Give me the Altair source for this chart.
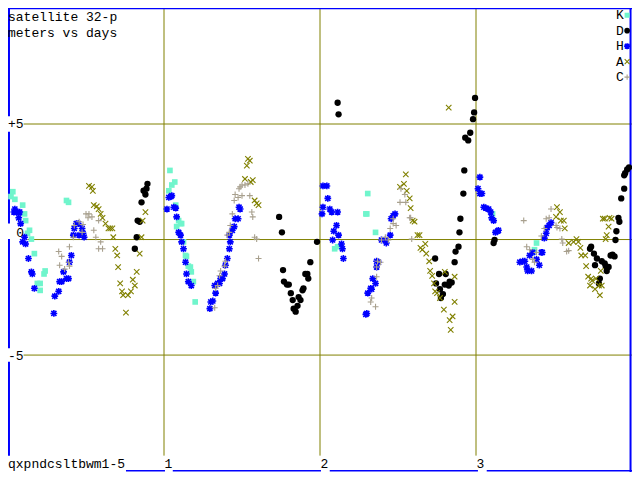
import altair as alt
import pandas as pd

# ---- data: (days, meters) per series ----
K = [(0.031, 2.07), (0.019, 1.86), (0.044, 1.74), (0.094, 1.49), (0.106, 1.11), (0.113, 0.82),
     (0.138, 0.40), (0.125, 0.27), (0.150, 0.02), (0.169, -0.61), (0.238, -1.36), (0.231, -1.49),
     (0.188, -1.90), (0.206, -1.90), (0.206, -2.20), (0.375, 1.69), (0.388, 1.61),
     (1.038, 2.99), (1.050, 2.36), (1.069, 2.49), (1.031, 2.11), (1.075, 1.49), (1.094, 0.82),
     (1.106, 0.69), (1.081, 0.56), (1.113, 0.69), (1.125, -0.10), (1.138, -0.69), (1.144, -0.73),
     (1.156, -1.15), (1.169, -1.19), (1.175, -1.40), (1.188, -1.82), (1.200, -2.70),
     (2.306, 1.99), (2.294, 1.11), (2.300, 1.11), (2.356, 0.31), (2.094, -0.40), (2.113, -0.31),
     (3.106, 1.11), (3.388, -0.15), (3.375, -0.44), (3.363, -0.56)]

D = [(0.894, 2.41), (0.888, 2.20), (0.869, 2.11), (0.881, 1.95), (0.856, 1.61), (0.831, 0.82),
     (0.844, 0.77), (0.825, 0.10), (0.813, -0.40),
     (1.738, 0.98), (1.756, 0.31), (1.981, -0.10), (1.938, -0.98), (1.763, -1.32), (1.906, -1.49),
     (1.919, -1.49), (1.925, -1.69), (1.769, -1.82), (1.788, -1.95), (1.800, -1.95), (1.894, -2.11),
     (1.888, -2.20), (1.813, -2.32), (1.863, -2.49), (1.875, -2.62), (1.825, -2.62), (1.856, -2.87),
     (1.831, -2.99), (1.844, -3.12),
     (2.113, 5.92), (2.119, 5.42), (2.994, 6.13), (2.988, 5.50), (2.981, 5.21), (2.963, 4.62),
     (2.931, 4.41), (2.950, 4.29), (2.925, 2.99), (2.919, 1.99), (2.900, 0.90), (2.894, 0.31),
     (2.888, -0.31), (2.869, -0.52), (2.863, -0.98), (2.738, -0.82), (2.763, -1.49), (2.806, -1.49),
     (2.744, -1.90), (2.800, -1.95), (2.825, -1.99), (2.831, -1.82), (2.844, -1.86), (2.769, -2.15),
     (2.788, -2.36), (2.775, -2.53),
     (3.119, -0.02), (3.113, -0.15), (3.981, 3.12), (3.969, 3.03), (3.956, 2.87), (3.950, 2.78),
     (3.950, 2.20), (3.931, 1.78), (3.913, 0.94), (3.919, 0.77), (3.900, 0.36), (3.894, -0.02),
     (3.875, -0.65), (3.863, -0.69), (3.888, -0.73), (3.738, -0.31), (3.731, -0.40), (3.756, -0.61),
     (3.775, -0.82), (3.763, -1.11), (3.806, -0.94), (3.825, -1.03), (3.831, -1.15), (3.850, -1.19),
     (3.838, -1.36), (3.794, -1.69), (3.788, -1.90)]

H = [(0.044, 1.32), (0.063, 1.19), (0.038, 1.19), (0.075, 1.19), (0.069, 0.94), (0.081, 0.69),
     (0.106, 0.10), (0.094, -0.10), (0.113, -0.19), (0.131, -0.82), (0.150, -1.40), (0.156, -1.49),
     (0.169, -2.11), (0.300, -2.45), (0.294, -3.20), (0.325, -2.24), (0.331, -1.82), (0.344, -1.82),
     (0.375, -1.69), (0.388, -1.69), (0.356, -1.40), (0.394, -0.98), (0.406, -0.69), (0.419, 0.19),
     (0.425, 0.48), (0.438, 0.69), (0.450, 0.69), (0.456, 0.19), (0.481, 0.27), (0.488, 0.10),
     (0.475, 0.48),
     (1.044, 1.86), (1.050, 1.90), (1.031, 1.82), (1.019, 1.32), (1.063, 1.40), (1.075, 1.36),
     (1.081, 0.98), (1.094, 0.31), (1.106, 0.19), (1.113, -0.10), (1.125, -0.40), (1.138, -0.98),
     (1.144, -1.49), (1.156, -1.82), (1.175, -1.99), (1.325, -1.99), (1.331, -2.32), (1.313, -2.66),
     (1.300, -2.70), (1.294, -2.99), (1.344, -1.90), (1.356, -1.90), (1.363, -1.69), (1.375, -1.69),
     (1.388, -1.49), (1.394, -1.11), (1.406, -0.82), (1.419, -0.40), (1.425, -0.10), (1.419, 0.19),
     (1.438, 0.40), (1.450, 0.56), (1.456, 0.90), (1.475, 0.90), (1.481, 1.40), (1.488, 1.32),
     (2.019, 2.32), (2.044, 2.32), (2.050, 1.78), (2.019, 1.40), (2.013, 1.11), (2.063, 1.32),
     (2.075, 1.19), (2.113, 1.19), (2.106, 0.61), (2.088, 0.36), (2.119, 0.19), (2.081, -0.02),
     (2.138, -0.19), (2.144, -0.40), (2.150, -0.82), (2.363, -0.94), (2.375, -0.98), (2.363, -1.19),
     (2.338, -1.69), (2.356, -1.90), (2.325, -2.11), (2.331, -2.15), (2.306, -2.32), (2.294, -3.24),
     (2.300, -3.20), (2.394, -0.02), (2.419, -0.02), (2.425, -0.15), (2.450, 0.19), (2.456, 0.90),
     (2.469, 1.03), (2.481, 1.11),
     (3.025, 2.70), (3.013, 2.20), (3.025, 1.99), (3.038, 1.99), (3.050, 1.40), (3.063, 1.36),
     (3.081, 1.32), (3.094, 1.19), (3.100, 0.94), (3.113, 0.82), (3.125, 0.31), (3.138, 0.36),
     (3.144, 0.40), (3.281, -0.98), (3.300, -0.94), (3.313, -0.94), (3.325, -1.19), (3.331, -1.36),
     (3.356, -1.36), (3.344, -0.69), (3.363, -0.56), (3.388, -0.86), (3.406, -1.11), (3.419, -0.56),
     (3.425, -0.56), (3.438, 0.06), (3.450, 0.27), (3.456, 0.52), (3.469, 0.61), (3.481, 0.73)]

A = [(0.519, 2.32), (0.538, 2.28), (0.544, 2.11), (0.550, 1.49), (0.569, 1.44), (0.581, 1.32),
     (0.594, 1.11), (0.606, 0.94), (0.625, 0.69), (0.644, 0.48), (0.656, 0.48), (0.669, 0.48),
     (0.675, 0.10), (0.688, -0.40), (0.700, -0.69), (0.706, -1.19), (0.825, -1.40), (0.800, -1.74),
     (0.813, -1.99), (0.719, -1.90), (0.731, -2.24), (0.738, -2.41), (0.788, -2.24), (0.769, -2.41),
     (0.756, -3.16), (0.844, -0.61), (0.856, 0.10), (0.863, 0.82), (0.881, 1.19),
     (1.538, 3.49), (1.550, 3.41), (1.531, 3.20), (1.519, 2.62), (1.569, 2.57), (1.556, 2.49),
     (1.581, 1.69), (1.594, 1.57), (1.606, 1.49),
     (2.825, 5.71), (2.550, 2.82), (2.538, 2.41), (2.513, 2.28), (2.556, 2.11), (2.575, 1.78),
     (2.581, 1.36), (2.594, 0.82), (2.606, 0.77), (2.625, 0.19), (2.638, 0.19), (2.675, -0.19),
     (2.656, -0.44), (2.644, -0.36), (2.681, -0.61), (2.700, -0.94), (2.706, -1.36), (2.719, -1.57),
     (2.731, -1.90), (2.738, -2.24), (2.750, -2.32), (2.769, -2.53), (2.800, -1.40), (2.863, -1.61),
     (2.863, -2.70), (2.794, -3.03), (2.850, -3.33), (2.831, -3.49), (2.838, -3.91),
     (3.519, 1.40), (3.538, 1.19), (3.513, 0.98), (3.544, 0.82), (3.563, 0.82), (3.569, 0.48),
     (3.594, -0.15), (3.625, -0.10), (3.644, 0.02), (3.656, -0.10), (3.669, -0.36), (3.675, -0.69),
     (3.700, -0.69), (3.706, -1.15), (3.719, -1.61), (3.738, -1.69), (3.744, -1.78), (3.769, -1.69),
     (3.731, -1.99), (3.763, -2.15), (3.788, -1.99), (3.806, -1.99), (3.794, -2.41), (3.800, -1.36),
     (3.813, 0.90), (3.831, 0.02), (3.838, 0.19), (3.856, 0.94), (3.825, 0.90), (3.869, 0.90),
     (3.850, 0.56)]

C = [(0.325, -0.52), (0.344, -0.73), (0.394, -0.31), (0.331, -1.11), (0.363, -1.28), (0.388, -0.98),
     (0.394, -1.15), (0.419, 0.10), (0.425, 0.61), (0.456, 0.77), (0.481, 0.65), (0.475, 0.31),
     (0.500, 1.11), (0.519, 1.11), (0.513, 0.94), (0.538, 0.98), (0.550, 0.40), (0.563, 0.10),
     (0.581, 0.82), (0.594, -0.10), (0.581, -0.40), (0.606, -0.40),
     (1.325, -2.95), (1.331, -2.11), (1.344, -1.99), (1.356, -1.57), (1.363, -1.36), (1.388, -1.15),
     (1.394, -0.94), (1.406, 0.19), (1.419, 0.31), (1.425, 0.61), (1.438, 1.11), (1.450, 1.69),
     (1.456, 1.95), (1.475, 1.82), (1.500, 1.90), (1.481, 2.20), (1.488, 2.28), (1.500, 2.36),
     (1.519, 2.36), (1.538, 2.41), (1.550, 1.90), (1.563, 1.19), (1.569, 0.98), (1.581, 0.10),
     (1.594, 0.02), (1.606, -0.82),
     (2.513, 1.61), (2.544, 1.95), (2.550, 1.61), (2.519, 2.20), (2.575, 0.94), (2.581, 0.94),
     (2.469, 0.90), (2.488, 0.61), (2.469, 0.69), (2.450, 0.48), (2.419, 0.10), (2.394, -0.02),
     (2.438, -0.02), (2.588, 0.02), (2.369, -0.94), (2.388, -0.98), (2.363, -1.19), (2.363, -1.61),
     (2.331, -2.53), (2.325, -2.70), (2.356, -2.91),
     (3.306, 0.82), (3.325, -0.31), (3.344, -0.44), (3.363, -0.86), (3.375, -0.98), (3.388, -0.56),
     (3.419, 0.15), (3.438, 0.48), (3.450, 0.90), (3.469, 0.94), (3.481, 1.32), (3.513, 0.61),
     (3.519, 0.52), (3.538, 0.48), (3.550, 0.02), (3.556, -0.15), (3.581, -0.52), (3.594, -0.48)]

SERIES = ["K", "D", "H", "A", "C"]
X_TICKS = [1, 2, 3]
X_TICK_LABELS = ["1", "2", "3"]
Y_TICKS = [5, 0, -5]
Y_TICK_LABELS = ["+5", "0", "-5"]
TITLE_LINES = ["satellite 32-p", "meters vs days"]
FOOTER = "qxpndcsltbwm1-5"

# ---- layout / style ----
W, HGT = 624, 464
X_DOM = [0, 4]
Y_DOM = [-10.06, 10.02]
OLIVE = "#808000"
BLUE = "#0000ff"
FONT = "Liberation Mono"
FS = 13

ASTERISK = "M-1,0L1,0M0,-1L0,1M-0.75,-0.75L0.75,0.75M-0.75,0.75L0.75,-0.75"
XMARK = "M-1,-1L1,1M-1,1L1,-1"
PLUS = "M-1,0L1,0M0,-1L0,1"

STYLE = {
    "K": dict(shape="square", filled=True, color="#70f5cc", size=32, strokeWidth=0),
    "D": dict(shape="circle", filled=True, color="#000000", size=40, strokeWidth=0),
    "H": dict(shape=ASTERISK, filled=False, color=BLUE, size=46, strokeWidth=1.6),
    "A": dict(shape=XMARK, filled=False, color=OLIVE, size=30, strokeWidth=1.1),
    "C": dict(shape=PLUS, filled=False, color="#a8a08e", size=36, strokeWidth=1.1),
}


def gx(px):  # position on the reference frame -> days
    return px / 160.0


def gy(py):  # position on the reference frame -> meters
    return (239.5 - py) / 23.9


xs = alt.Scale(domain=X_DOM, nice=False, zero=False)
ys = alt.Scale(domain=Y_DOM, nice=False, zero=False)


def X(f):
    return alt.X(f, type="quantitative", scale=xs, axis=None)


def Y(f):
    return alt.Y(f, type="quantitative", scale=ys, axis=None)


layers = []

# grid lines
vgrid = pd.DataFrame({"x": X_TICKS, "y": [gy(0)] * 3, "y2": [gy(463)] * 3})
layers.append(alt.Chart(vgrid).mark_rule(color=OLIVE, strokeWidth=1).encode(
    x=X("x"), y=Y("y"), y2="y2"))
hgrid = pd.DataFrame({"y": Y_TICKS, "x": [gx(16), gx(20), gx(16)], "x2": [gx(640)] * 3})
layers.append(alt.Chart(hgrid).mark_rule(color=OLIVE, strokeWidth=1).encode(
    y=Y("y"), x=X("x"), x2="x2"))

# frame segments (blue), broken where labels sit
vert = pd.DataFrame({
    "x": [gx(1)] * 4 + [gx(638.5)],
    "y": [gy(0), gy(128), gy(239), gy(366), gy(0)],
    "y2": [gy(112), gy(223), gy(352), gy(463), gy(480)],
})
layers.append(alt.Chart(vert).mark_rule(color=BLUE, strokeWidth=2).encode(
    x=X("x"), y=Y("y"), y2="y2"))
horiz = pd.DataFrame({
    "y": [gy(0.5)] + [gy(478.6)] * 4,
    "x": [gx(0), gx(121), gx(169), gx(330), gx(491)],
    "x2": [gx(640), gx(161), gx(321), gx(482), gx(640)],
})
layers.append(alt.Chart(horiz).mark_rule(color=BLUE, strokeWidth=1.5).encode(
    y=Y("y"), x=X("x"), x2="x2"))

# data points
for name, pts in zip(SERIES, [K, D, H, A, C]):
    df = pd.DataFrame(pts, columns=["days", "meters"])
    st = STYLE[name]
    layers.append(alt.Chart(df).mark_point(
        shape=st["shape"], filled=st["filled"], color=st["color"], size=st["size"],
        strokeWidth=st["strokeWidth"], opacity=1).encode(x=X("days"), y=Y("meters")))

# legend (top right)
row_c = [7.5, 23.5, 39.5, 55.5, 71.5]
for i, name in enumerate(SERIES):
    st = STYLE[name]
    mdf = pd.DataFrame({"x": [gx(635)], "y": [gy(row_c[i])]})
    layers.append(alt.Chart(mdf).mark_point(
        shape=st["shape"], filled=st["filled"], color=st["color"], size=st["size"] * 0.8,
        strokeWidth=st["strokeWidth"], opacity=1).encode(x=X("x"), y=Y("y")))
leg = pd.DataFrame({"t": SERIES, "x": [gx(631.5)] * 5, "y": [gy(c + 4) for c in row_c]})
layers.append(alt.Chart(leg).mark_text(
    font=FONT, fontSize=FS, align="right", baseline="alphabetic", color="black").encode(
    x=X("x"), y=Y("y"), text="t:N"))

# titles and footer, left aligned
txt = pd.DataFrame({
    "t": TITLE_LINES + [FOOTER] + X_TICK_LABELS,
    "x": [gx(0), gx(0), gx(0), gx(160.5), gx(320.5), gx(480.5)],
    "y": [gy(13.5), gy(29.5), gy(475.5), gy(475.5), gy(475.5), gy(475.5)],
})
layers.append(alt.Chart(txt).mark_text(
    font=FONT, fontSize=FS, align="left", baseline="alphabetic", color="black").encode(
    x=X("x"), y=Y("y"), text="t:N"))

# y tick labels
ytl = pd.DataFrame({"t": Y_TICK_LABELS, "x": [gx(0), gx(16.5), gx(0)],
                    "y": [gy(124.5), gy(236.5), gy(364)],
                    "a": ["left", "right", "left"]})
layers.append(alt.Chart(ytl[ytl.a == "left"]).mark_text(
    font=FONT, fontSize=FS, align="left", baseline="alphabetic", color="black").encode(
    x=X("x"), y=Y("y"), text="t:N"))
layers.append(alt.Chart(ytl[ytl.a == "right"]).mark_text(
    font=FONT, fontSize=FS, align="right", baseline="alphabetic", color="black").encode(
    x=X("x"), y=Y("y"), text="t:N"))

chart = alt.layer(*layers).properties(
    width=W, height=HGT, padding=0,
    autosize=alt.AutoSizeParams(type="none"),
    background="white",
).configure_view(stroke=None)

chart.save("out.html", embed_options={"renderer": "svg", "actions": False})
